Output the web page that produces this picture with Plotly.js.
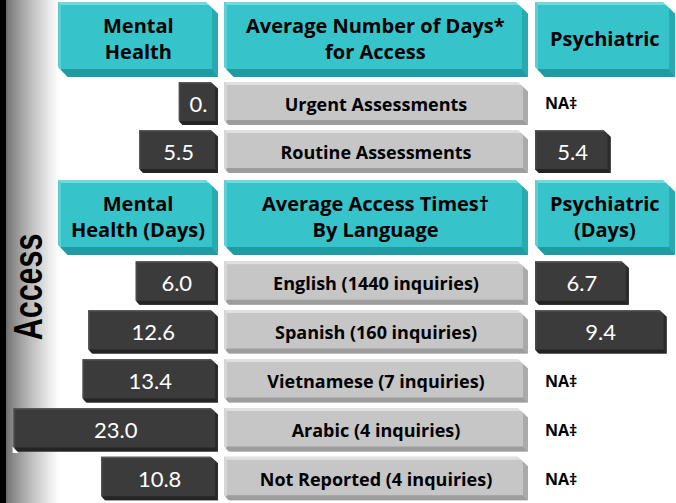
<!DOCTYPE html>
<html>
<head>
<meta charset="utf-8">
<script src="https://cdn.plot.ly/plotly-3.0.1.min.js"></script>
<style>html,body{margin:0;padding:0;background:#fff;}#chart{width:676px;height:503px;}</style>
</head>
<body>
<div id="chart"></div>
<script>
// ---------- data ----------
const assessmentTypes = ['Urgent Assessments', 'Routine Assessments'];
const assessMental = [0, 5.5];
const assessMentalLabels = ['0.', '5.5'];
const assessPsych = [null, 5.4];
const assessPsychLabels = ['', '5.4'];

const languages = ['English (1440 inquiries)', 'Spanish (160 inquiries)', 'Vietnamese (7 inquiries)', 'Arabic (4 inquiries)', 'Not Reported (4 inquiries)'];
const langMental = [6.0, 12.6, 13.4, 23.0, 10.8];
const langMentalLabels = ['6.0', '12.6', '13.4', '23.0', '10.8'];
const langPsych = [6.7, 9.4, null, null, null];
const langPsychLabels = ['6.7', '9.4', '', '', ''];

const headersTop = ['Mental<br>Health', 'Average Number of Days*<br>for Access', 'Psychiatric'];
const headersBottom = ['Mental<br>Health (Days)', 'Average Access Times\u2020<br>By Language', 'Psychiatric<br>(Days)'];
const naLabel = 'NA\u2021';
const sideTitle = 'Access';

// ---------- geometry ----------
const W = 676, H = 503;
const PX = p => p / W, PY = p => 1 - p / H;
const LBASE = -5.46, LMAX = 24.9;      // left (mental) axis, reversed
const RMAX = 10.07;                     // right (psych) axis
const colL = [0, 218], colC = [224, 528], colR = [535, 676];
const topY = [79.5, 175.5], botY = [258.5, 503];
const uxL = (LBASE - LMAX) / (colL[1] - colL[0]);
const uxR = RMAX / (colR[1] - colR[0]);
const uxC = 1 / (colC[1] - colC[0]);
const uyT = 2 / (topY[1] - topY[0]);
const uyB = 5 / (botY[1] - botY[0]);
const wT = 0.9, wB = 0.89;

const NUMFONT = 'Lato, "Open Sans", sans-serif';
const BOLDFONT = '"Open Sans", "Noto Sans", sans-serif';

const styles = {
  dark: {fill:'#3b3b3b', top:'#585858', left:'#4a4a4a', bottom:'#242424', right:'#2b2b2b', th:1.5, lh:1.5, bb:4, rb:3, c1:8, c2:5},
  gray: {fill:'#c6c6c6', top:'#e0e0e0', left:'#d6d6d6', bottom:'#9d9d9d', right:'#aaaaaa', th:3, lh:3, bb:5, rb:5, c1:11, c2:6},
  teal: {fill:'#36c3ca', top:'#6fd9de', left:'#58d0d6', bottom:'#1f9ca3', right:'#28aab1', th:3, lh:3, bb:8, rb:6, c1:13, c2:11}
};

const shapes = [];
const f = v => (+v).toFixed(6);
function poly(xref, yref, pts, color) {
  shapes.push({type:'path', xref:xref, yref:yref, layer:'above', line:{width:0}, fillcolor:color,
    path:'M' + pts.map(p => f(p[0]) + ',' + f(p[1])).join('L') + 'Z'});
}
// L,R = screen-left/right x values; T,B = screen-top/bottom y values; ux,uy units per screen px (right / down)
function bevel(xref, yref, L, R, T, B, ux, uy, s, withFill) {
  const X = (v, d) => v + d * ux, Y = (v, d) => v + d * uy;
  if (withFill) poly(xref, yref, [[L,T],[R,T],[R,B],[L,B]], s.fill);
  poly(xref, yref, [[L,T],[R,T],[X(R,-s.rb),Y(T,s.th)],[X(L,s.lh),Y(T,s.th)]], s.top);
  poly(xref, yref, [[L,T],[X(L,s.lh),Y(T,s.th)],[X(L,s.lh),Y(B,-s.bb)],[L,B]], s.left);
  poly(xref, yref, [[L,B],[X(L,s.lh),Y(B,-s.bb)],[X(R,-s.rb),Y(B,-s.bb)],[R,B]], s.bottom);
  poly(xref, yref, [[R,T],[R,B],[X(R,-s.rb),Y(B,-s.bb)],[X(R,-s.rb),Y(T,s.th)]], s.right);
  poly(xref, yref, [[X(R,-s.c1),Y(T,-1)],[X(R,1.5),Y(T,-1)],[X(R,1.5),Y(T,s.c1)]], '#ffffff');
  poly(xref, yref, [[X(L,-1),Y(B,-s.c2)],[X(L,-1),Y(B,1.5)],[X(L,s.c2),Y(B,1.5)]], '#ffffff');
}

// left gradient strip
shapes.push({type:'rect', xref:'paper', yref:'paper', layer:'below', x0:0, x1:PX(6), y0:0, y1:1, fillcolor:'#000000', line:{width:0}});
for (let p = 6; p < 58; p += 2) {
  const t = (p - 6) / 52;
  const c = Math.round(112 + 143 * Math.pow(t, 0.8));
  shapes.push({type:'rect', xref:'paper', yref:'paper', layer:'below', x0:PX(p), x1:PX(p + 2.2), y0:0, y1:1,
    fillcolor:'rgb(' + c + ',' + c + ',' + c + ')', line:{width:0}});
}

// header boxes
const annotations = [];
function headerRow(texts, y0, y1) {
  [colL, colC, [535, 675]].forEach((c, i) => {
    const x0 = i === 0 ? 58 : c[0];
    bevel('paper', 'paper', PX(x0), PX(c[1]), PY(y0), PY(y1), 1 / W, -1 / H, styles.teal, true);
    annotations.push({xref:'paper', yref:'paper', x:PX((x0 + c[1]) / 2), y:PY((y0 + y1) / 2 - 1), text:texts[i],
      showarrow:false, xanchor:'center', yanchor:'middle', align:'center',
      font:{family:BOLDFONT, size:20, color:'#000000', weight:700}});
  });
}
headerRow(headersTop, 2, 77);
headerRow(headersBottom, 180, 255);

// bars
const traces = [];
function group(cats, mental, mentalLbl, psych, psychLbl, yref, uy, w) {
  const idx = cats.map((_, i) => i);
  const ya = yref;
  traces.push({type:'bar', orientation:'h', xaxis:'x', yaxis:ya, y:idx, x:mental.map(v => v - LBASE), base:LBASE, width:w,
    marker:{color:styles.dark.fill, line:{width:0}}, text:mentalLbl, textposition:'inside', insidetextanchor:'middle',
    constraintext:'none', textangle:0, insidetextfont:{family:NUMFONT, size:22, color:'#ffffff'}});
  traces.push({type:'bar', orientation:'h', xaxis:'x3', yaxis:ya, y:idx, x:cats.map(() => 1), base:0, width:w,
    marker:{color:styles.gray.fill, line:{width:0}}, text:cats, textposition:'inside', insidetextanchor:'middle',
    constraintext:'none', textangle:0, insidetextfont:{family:BOLDFONT, size:18, color:'#000000', weight:700}});
  traces.push({type:'bar', orientation:'h', xaxis:'x2', yaxis:ya, y:idx, x:psych, base:0, width:w,
    marker:{color:styles.dark.fill, line:{width:0}}, text:psychLbl, textposition:'inside', insidetextanchor:'middle',
    constraintext:'none', textangle:0, insidetextfont:{family:NUMFONT, size:22, color:'#ffffff'}});
  idx.forEach(i => {
    const T = i - w / 2, B = i + w / 2;
    bevel('x', ya, mental[i], LBASE, T, B, uxL, uy, styles.dark, false);
    bevel('x3', ya, 0, 1, T, B, uxC, uy, styles.gray, false);
    if (psych[i] !== null) {
      bevel('x2', ya, 0, psych[i], T, B, uxR, uy, styles.dark, false);
    } else {
      annotations.push({xref:'x2', yref:ya, x:0, y:i, xanchor:'left', yanchor:'middle', xshift:8, text:naLabel,
        showarrow:false, font:{family:BOLDFONT, size:16, color:'#000000', weight:700}});
    }
  });
}
group(assessmentTypes, assessMental, assessMentalLabels, assessPsych, assessPsychLabels, 'y', uyT, wT);
group(languages, langMental, langMentalLabels, langPsych, langPsychLabels, 'y2', uyB, wB);

annotations.push({xref:'paper', yref:'paper', x:PX(28), y:PY(287), text:sideTitle, textangle:-90, showarrow:false,
  xanchor:'center', yanchor:'middle', font:{family:'"Liberation Sans", Arial, sans-serif', size:40, color:'#000000', weight:700}});

const hidden = {visible:false, showgrid:false, zeroline:false, fixedrange:true};
const layout = {
  width:W, height:H, margin:{l:0, r:0, t:0, b:0, pad:0},
  paper_bgcolor:'#ffffff', plot_bgcolor:'rgba(0,0,0,0)', showlegend:false, hovermode:false,
  barmode:'overlay',
  xaxis: Object.assign({}, hidden, {domain:[PX(colL[0]), PX(colL[1])], range:[LMAX, LBASE], anchor:'y'}),
  xaxis2: Object.assign({}, hidden, {domain:[PX(colR[0]), 1], range:[0, RMAX], anchor:'y'}),
  xaxis3: Object.assign({}, hidden, {domain:[PX(colC[0]), PX(colC[1])], range:[0, 1], anchor:'y'}),
  yaxis: Object.assign({}, hidden, {domain:[PY(topY[1]), PY(topY[0])], range:[1.5, -0.5], anchor:'x'}),
  yaxis2: Object.assign({}, hidden, {domain:[PY(botY[1]), PY(botY[0])], range:[4.5, -0.5], anchor:'x'}),
  shapes: shapes, annotations: annotations
};
Plotly.newPlot('chart', traces, layout, {staticPlot:true, displayModeBar:false}).then(gd => {
  // condense the rotated side title along its reading direction
  try {
    gd.querySelectorAll('.annotation-text').forEach(t => {
      if (t.textContent === sideTitle) {
        const bb = t.getBBox();
        const cx = bb.x + bb.width / 2;
        t.setAttribute('transform', 'translate(' + cx + ',0) scale(0.76,1) translate(' + (-cx) + ',0)');
      }
    });
  } catch (e) {}
});
</script>
</body>
</html>
